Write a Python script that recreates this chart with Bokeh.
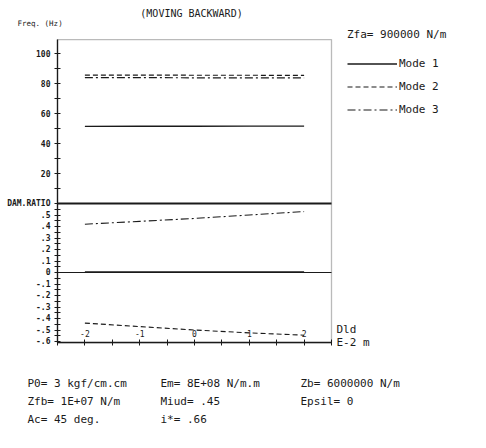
from bokeh.plotting import figure
from bokeh.models import Range1d, LinearAxis, FixedTicker, Label, Legend, LegendItem, BoxAnnotation
from bokeh.embed import file_html
from bokeh.resources import INLINE

# ---------------- data ----------------
x_vals = [-2, -1, 0, 1, 2]                       # Dld (E-2 m)
freq_mode1 = [51.4, 51.5, 51.5, 51.6, 51.6]      # Hz
freq_mode2 = [85.6, 85.6, 85.5, 85.5, 85.4]
freq_mode3 = [83.9, 83.9, 83.8, 83.8, 83.7]
damp_mode1 = [0.003, 0.003, 0.004, 0.004, 0.005]
damp_mode2 = [-0.44, -0.47, -0.50, -0.525, -0.545]
damp_mode3 = [0.42, 0.445, 0.47, 0.50, 0.53]

x_ticks = [-2, -1, 0, 1, 2]
x_tick_labels = ["-2", "-1", "0", "1", "2"]
x_minor = [-2.5, -1.5, -0.5, 0.5, 1.5, 2.5]
freq_ticks = [20, 40, 60, 80, 100]
freq_tick_labels = ["20", "40", "60", "80", "100"]
freq_minor = [10, 30, 50, 70, 90]
damp_ticks = [-0.6, -0.5, -0.4, -0.3, -0.2, -0.1, 0, 0.1, 0.2, 0.3, 0.4, 0.5, 0.6]
damp_tick_labels = ["-.6", "-.5", "-.4", "-.3", "-.2", "-.1", "0", ".1", ".2", ".3", ".4", ".5", "DAM.RATIO"]
damp_minor = [-0.55, -0.45, -0.35, -0.25, -0.15, -0.05, 0.05, 0.15, 0.25, 0.35, 0.45, 0.55]

mode_names = ["Mode 1", "Mode 2", "Mode 3"]
param_rows = [
    ["P0= 3 kgf/cm.cm", "Em= 8E+08 N/m.m", "Zb= 6000000 N/m"],
    ["Zfb= 1E+07 N/m", "Miud= .45", "Epsil= 0"],
    ["Ac= 45 deg.", "i*= .66", ""],
]

# plotting window of the original plotter page
X_LO, X_HI = -2.5, 2.5            # Dld axis extent
FREQ_TOP = 109.3                  # top of the frequency panel
DAMP_LO, DAMP_SPLIT = -0.61, 0.6  # damping panel extent (0 Hz line = DAM.RATIO line)

FONT = "DejaVu Sans Mono"
INK = "#1a1a1a"
W, H = 486, 448

p = figure(width=W, height=H, output_backend="svg", toolbar_location=None,
           x_range=Range1d(-3.540, 5.3285), y_range=Range1d(-1.5304, 2.3652),
           x_axis_location=None, y_axis_location=None,
           min_border=0, min_border_left=0, min_border_right=0, min_border_top=0, min_border_bottom=0,
           background_fill_color="white", border_fill_color="white",
           outline_line_color=None)
p.grid.visible = False
p.extra_y_ranges = {"freq": Range1d(-163.33, 135.33)}

def style_axis(ax, size, bold=True):
    ax.axis_line_color = INK
    ax.axis_line_width = 1.3
    ax.major_tick_line_color = INK
    ax.minor_tick_line_color = INK
    ax.major_tick_in = 3
    ax.major_tick_out = 3
    ax.minor_tick_in = 3
    ax.minor_tick_out = 3
    ax.major_label_text_font = FONT
    ax.major_label_text_font_size = size
    ax.major_label_text_color = INK
    ax.major_label_text_font_style = "bold" if bold else "normal"

freq_axis = LinearAxis(y_range_name="freq", fixed_location=X_LO, bounds=(0, FREQ_TOP),
                       ticker=FixedTicker(ticks=freq_ticks, minor_ticks=freq_minor),
                       major_label_overrides=dict(zip(freq_ticks, freq_tick_labels)),
                       major_label_standoff=4)
style_axis(freq_axis, "8px")
p.add_layout(freq_axis, "left")

damp_axis = LinearAxis(fixed_location=X_LO, bounds=(DAMP_LO, DAMP_SPLIT),
                       ticker=FixedTicker(ticks=damp_ticks, minor_ticks=damp_minor),
                       major_label_overrides=dict(zip(damp_ticks, damp_tick_labels)),
                       major_label_standoff=4)
style_axis(damp_axis, "8px")
p.add_layout(damp_axis, "left")

x_axis = LinearAxis(fixed_location=DAMP_LO, bounds=(X_LO, X_HI),
                    ticker=FixedTicker(ticks=x_ticks, minor_ticks=x_minor),
                    major_label_overrides=dict(zip(x_ticks, x_tick_labels)),
                    major_label_standoff=3)
style_axis(x_axis, "8px", bold=False)
p.add_layout(x_axis, "above")

# plot border (top + right), panel separator and zero-damping line
p.add_layout(BoxAnnotation(left=X_LO, right=X_HI, bottom=DAMP_LO, top=DAMP_SPLIT + (FREQ_TOP * 1.5) / 115,
                           fill_alpha=0, line_color=INK, line_width=1.3))
p.line([X_LO, X_HI], [DAMP_SPLIT, DAMP_SPLIT], line_color=INK, line_width=2)
p.line([X_LO, X_HI], [0, 0], line_color=INK, line_width=1)

# data lines
r_f1 = p.line(x_vals, freq_mode1, y_range_name="freq", line_color=INK, line_width=1.4)
r_f2 = p.line(x_vals, freq_mode2, y_range_name="freq", line_color=INK, line_width=1.2, line_dash="5 3")
r_f3 = p.line(x_vals, freq_mode3, y_range_name="freq", line_color=INK, line_width=1.2, line_dash="8 3 2 3")
r_d1 = p.line(x_vals, damp_mode1, line_color=INK, line_width=1.6)
r_d2 = p.line(x_vals, damp_mode2, line_color=INK, line_width=1.1, line_dash="5 3")
r_d3 = p.line(x_vals, damp_mode3, line_color=INK, line_width=1.1, line_dash="8 3 2 3")

legend = Legend(items=[LegendItem(label=mode_names[0], renderers=[r_f1]),
                       LegendItem(label=mode_names[1], renderers=[r_f2]),
                       LegendItem(label=mode_names[2], renderers=[r_f3])],
                title="Zfa= 900000 N/m", location=(347, H - 120),
                glyph_width=50, glyph_height=21, label_height=21, label_standoff=2,
                spacing=2, padding=0, margin=0, title_standoff=12,
                border_line_color=None, background_fill_alpha=0,
                label_text_font=FONT, label_text_font_size="11px", label_text_color=INK,
                title_text_font=FONT, title_text_font_size="11px", title_text_color=INK,
                title_text_font_style="normal")
p.add_layout(legend)

def lab(text, px, py, size="11px", align="left"):
    p.add_layout(Label(x=px, y=H - py, x_units="screen", y_units="screen", text=text,
                       text_font=FONT, text_font_size=size, text_color=INK,
                       text_align=align, text_baseline="middle"))

lab("(MOVING BACKWARD)", 191, 13, "10px", "center")
lab("Freq. (Hz)", 17, 23, "7.5px")
lab("Dld", 336, 329, "11px")
lab("E-2 m", 336, 342, "11px")

col_x = [27, 160, 300]
row_y = [383, 401, 419]
for r, row in enumerate(param_rows):
    for c, txt in enumerate(row):
        if txt:
            lab(txt, col_x[c], row_y[r], "11px")

open("out.html", "w").write(file_html(p, INLINE))
